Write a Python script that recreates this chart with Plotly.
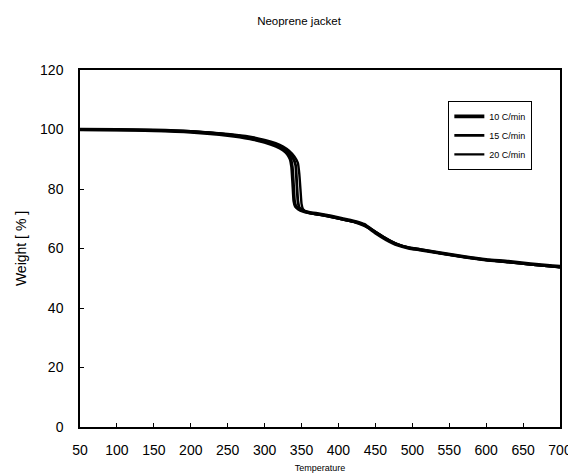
import plotly.graph_objects as go

# ---- data ----
t10 = [50, 100, 150, 200, 250, 280, 300, 315, 325, 331, 335, 337, 338.5, 340, 342, 346, 352, 360, 375, 390, 405, 420, 435, 450, 465, 480, 495, 510, 540, 570, 600, 630, 660, 690, 700]
w10 = [100, 99.9, 99.7, 99.2, 98.1, 97.0, 95.8, 94.5, 93.2, 91.8, 90.0, 87.5, 82, 76, 74.2, 73.3, 72.6, 72.1, 71.5, 70.8, 70.0, 69.2, 68.0, 65.3, 63.0, 61.2, 60.2, 59.6, 58.4, 57.2, 56.2, 55.6, 54.8, 54.1, 53.9]

t15 = [50, 100, 150, 200, 250, 280, 300, 315, 325, 332, 338, 342, 343.5, 345, 347, 351, 356, 364, 378, 392, 406, 420, 435, 450, 465, 480, 495, 510, 540, 570, 600, 630, 660, 690, 700]
w15 = [100, 99.9, 99.7, 99.3, 98.3, 97.3, 96.2, 95.0, 93.8, 92.5, 90.6, 88, 82, 76, 73.8, 72.9, 72.3, 71.8, 71.3, 70.6, 69.8, 69.1, 67.9, 65.6, 63.3, 61.4, 60.3, 59.7, 58.4, 57.2, 56.2, 55.5, 54.7, 54.0, 53.8]

t20 = [50, 100, 150, 200, 250, 280, 300, 315, 325, 333, 340, 345, 347, 348.5, 350, 352, 356, 362, 370, 382, 395, 408, 420, 435, 450, 465, 480, 495, 510, 540, 570, 600, 630, 660, 690, 700]
w20 = [100, 99.95, 99.8, 99.4, 98.5, 97.6, 96.5, 95.4, 94.3, 92.9, 91.0, 88.8, 85, 80, 75.0, 73.2, 72.4, 71.9, 71.5, 71.0, 70.3, 69.6, 69.0, 67.6, 65.6, 63.3, 61.4, 60.3, 59.6, 58.3, 57.1, 56.1, 55.4, 54.6, 53.9, 53.6]

series_names = ["10 C/min", "15 C/min", "20 C/min"]
x_ticks = [50, 100, 150, 200, 250, 300, 350, 400, 450, 500, 550, 600, 650, 700]
y_ticks = [0, 20, 40, 60, 80, 100, 120]

FONT = "Liberation Sans, Arial, sans-serif"

fig = go.Figure()
for t, w, name, lw in [(t10, w10, series_names[0], 3.6),
                       (t15, w15, series_names[1], 2.8),
                       (t20, w20, series_names[2], 2.4)]:
    fig.add_trace(go.Scatter(x=t, y=w, mode="lines", name=name,
                             line=dict(color="black", width=lw, shape="spline", smoothing=0.4)))

fig.update_layout(
    width=576, height=476,
    margin=dict(l=67, r=23, t=62, b=56),
    paper_bgcolor="white", plot_bgcolor="white",
    font=dict(family=FONT, color="black"),
    title=dict(text="Neoprene jacket", x=291/576, xanchor="center", y=1 - 13/476, yanchor="middle",
               font=dict(size=11.5, family=FONT, color="black")),
    showlegend=True,
    legend=dict(x=(525 - 67) / 486, xanchor="right", y=(420 - 93) / 358, yanchor="top",
                bordercolor="black", borderwidth=1, bgcolor="white",
                font=dict(size=9, family=FONT, color="black"),
                tracegroupgap=0, itemwidth=30),
)
fig.update_xaxes(range=[50, 700], tickvals=x_ticks, ticks="inside", ticklen=4, tickcolor="black",
                 showline=True, linecolor="black", linewidth=1.5, mirror=True, showgrid=False, zeroline=False,
                 tickfont=dict(size=14, family=FONT, color="black"), ticklabelstandoff=9,
                 title=dict(text="Temperature", font=dict(size=9, family=FONT, color="black"), standoff=8))
fig.update_yaxes(range=[0, 120], tickvals=y_ticks, ticks="inside", ticklen=4, tickcolor="black",
                 showline=True, linecolor="black", linewidth=1.5, mirror=True, showgrid=False, zeroline=False,
                 tickfont=dict(size=14, family=FONT, color="black"), ticklabelstandoff=12,
                 title=dict(text="Weight [ % ]", font=dict(size=14, family=FONT, color="black"), standoff=10))

fig.write_html("out.html")
